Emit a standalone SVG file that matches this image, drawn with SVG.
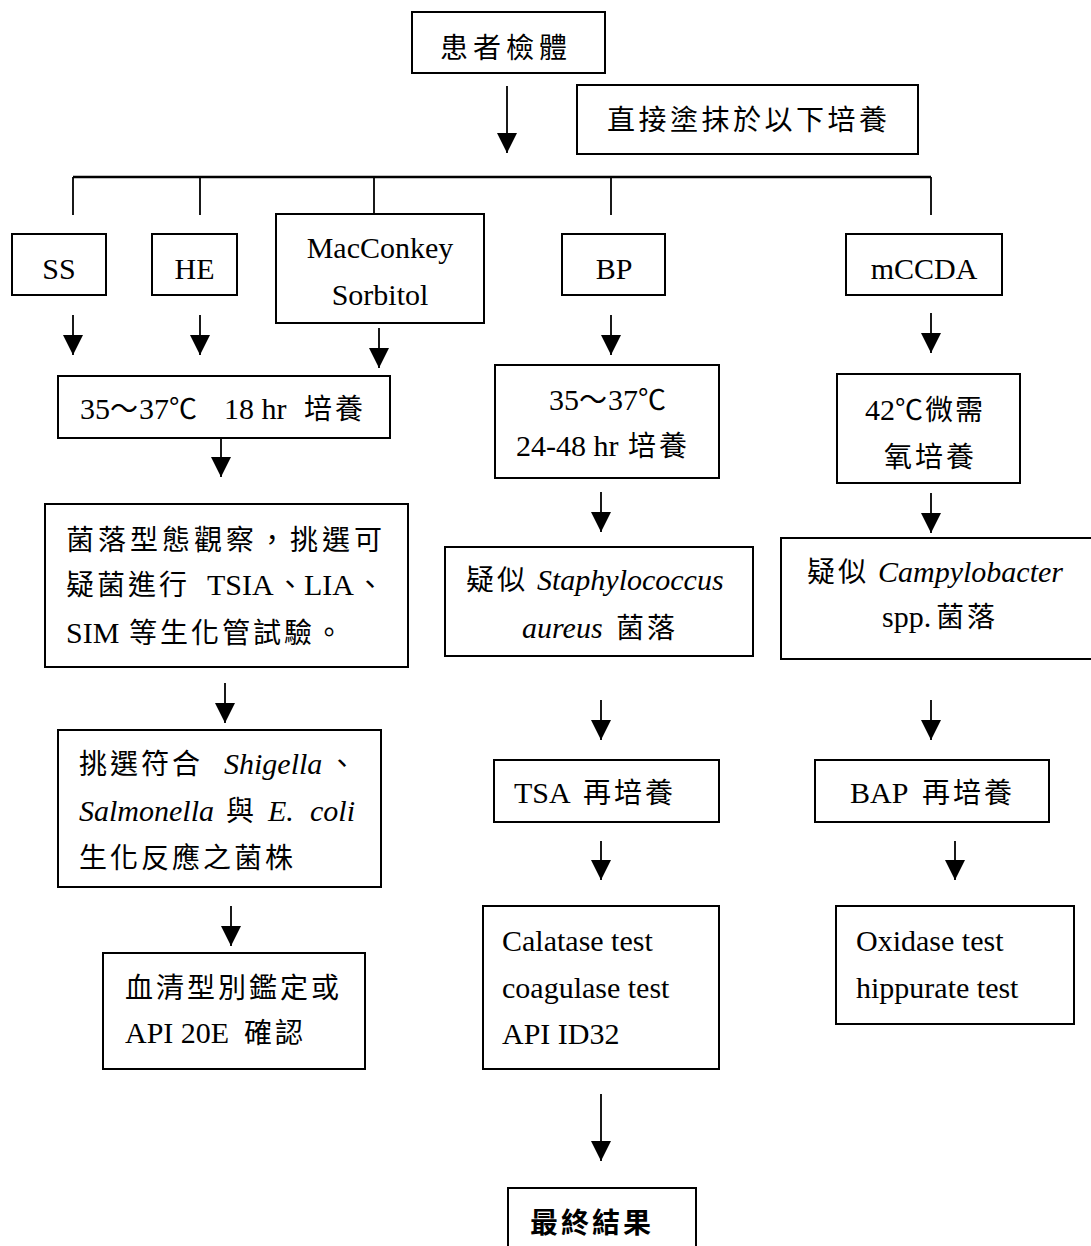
<svg xmlns="http://www.w3.org/2000/svg" width="1091" height="1246" viewBox="0 0 1091 1246">
<style>
.bx{fill:#fff;stroke:#000;stroke-width:2}
.ln{stroke:#000;stroke-width:1.8;fill:none}
.ar{stroke:#000;stroke-width:1.8;fill:none;marker-end:url(#ah)}
text{font-family:"Liberation Serif",serif;font-size:30px;fill:#000}
text.c{font-family:"Noto Sans CJK TC","Liberation Serif",sans-serif;font-size:28px;letter-spacing:3px}
.i{font-style:italic}
.m{text-anchor:middle}
</style>
<defs>
<marker id="ah" markerUnits="userSpaceOnUse" markerWidth="20" markerHeight="20" refX="20" refY="10" orient="auto" viewBox="0 0 20 20">
<path d="M0,0 L20,10 L0,20 z" fill="#000"/>
</marker>
</defs>
<rect width="1091" height="1246" fill="#fff"/>
<g id="connectors">
<line class="ar" x1="507" y1="86" x2="507" y2="153"/>
<line x1="73" y1="177" x2="931" y2="177" stroke="#000" stroke-width="2.6"/>
<line class="ln" x1="73" y1="177" x2="73" y2="215"/>
<line class="ln" x1="200" y1="177" x2="200" y2="215"/>
<line class="ln" x1="374" y1="177" x2="374" y2="214"/>
<line class="ln" x1="611" y1="177" x2="611" y2="215"/>
<line class="ln" x1="931" y1="177" x2="931" y2="215"/>
<line class="ar" x1="73" y1="315" x2="73" y2="355"/>
<line class="ar" x1="200" y1="315" x2="200" y2="355"/>
<line class="ar" x1="379" y1="328" x2="379" y2="368"/>
<line class="ar" x1="611" y1="315" x2="611" y2="355"/>
<line class="ar" x1="931" y1="313" x2="931" y2="353"/>
<line class="ar" x1="221" y1="438" x2="221" y2="477"/>
<line class="ar" x1="601" y1="492" x2="601" y2="532"/>
<line class="ar" x1="931" y1="493" x2="931" y2="533"/>
<line class="ar" x1="225" y1="683" x2="225" y2="723"/>
<line class="ar" x1="601" y1="700" x2="601" y2="740"/>
<line class="ar" x1="931" y1="700" x2="931" y2="740"/>
<line class="ar" x1="601" y1="841" x2="601" y2="880"/>
<line class="ar" x1="955" y1="841" x2="955" y2="880"/>
<line class="ar" x1="231" y1="906" x2="231" y2="946"/>
<line class="ar" x1="601" y1="1094" x2="601" y2="1161"/>
</g>
<g id="n-specimen">
<rect class="bx" x="412" y="12" width="193" height="61"/>
<text class="c" x="440" y="58" style="letter-spacing:5px">患者檢體</text>
</g>
<g id="n-direct">
<rect class="bx" x="577" y="85" width="341" height="69"/>
<text class="c" x="607" y="130" style="letter-spacing:3.5px">直接塗抹於以下培養</text>
</g>
<g id="n-ss">
<rect class="bx" x="12" y="234" width="94" height="61"/>
<text class="m" x="59" y="279">SS</text>
</g>
<g id="n-he">
<rect class="bx" x="152" y="234" width="85" height="61"/>
<text class="m" x="194.5" y="279">HE</text>
</g>
<g id="n-mac">
<rect class="bx" x="276" y="214" width="208" height="109"/>
<text class="m" x="380" y="258">MacConkey</text>
<text class="m" x="380" y="305">Sorbitol</text>
</g>
<g id="n-bp">
<rect class="bx" x="562" y="234" width="103" height="61"/>
<text class="m" x="614" y="279">BP</text>
</g>
<g id="n-mccda">
<rect class="bx" x="846" y="234" width="156" height="61"/>
<text class="m" x="924" y="279">mCCDA</text>
</g>
<g id="n-cult1">
<rect class="bx" x="58" y="376" width="332" height="62"/>
<text x="80" y="419">35</text>
<text class="c" x="110" y="419" style="letter-spacing:0">～</text>
<text x="139" y="419">37</text>
<text class="c" x="169" y="419" style="letter-spacing:0">℃</text>
<text x="224" y="419">18 hr</text>
<text class="c" x="304" y="419">培養</text>
</g>
<g id="n-cult2">
<rect class="bx" x="495" y="365" width="224" height="113"/>
<text x="549" y="410">35</text>
<text class="c" x="579" y="410" style="letter-spacing:0">～</text>
<text x="608" y="410">37</text>
<text class="c" x="638" y="410" style="letter-spacing:0">℃</text>
<text x="516" y="456">24-48 hr</text>
<text class="c" x="628" y="456">培養</text>
</g>
<g id="n-cult3">
<rect class="bx" x="837" y="374" width="183" height="109"/>
<text x="865" y="420">42</text>
<text class="c" x="895" y="420" style="letter-spacing:2px">℃微需</text>
<text class="c" x="884" y="467">氧培養</text>
</g>
<g id="n-observe">
<rect class="bx" x="45" y="504" width="363" height="163"/>
<text class="c" x="66" y="550" style="letter-spacing:4px">菌落型態觀察，挑選可</text>
<text class="c" x="66" y="595">疑菌進行</text>
<text x="207" y="595">TSIA</text>
<text class="c" x="276" y="595">、</text>
<text x="304" y="595">LIA</text>
<text class="c" x="356" y="595">、</text>
<text x="66" y="643">SIM</text>
<text class="c" x="129" y="643">等生化管試驗。</text>
</g>
<g id="n-staph">
<rect class="bx" x="445" y="547" width="308" height="109"/>
<text class="c" x="466" y="590">疑似</text>
<text class="i" x="537" y="590">Staphylococcus</text>
<text class="i" x="522" y="638">aureus</text>
<text class="c" x="616" y="638">菌落</text>
</g>
<g id="n-campy">
<rect class="bx" x="781" y="538" width="320" height="121"/>
<text class="c" x="807" y="582">疑似</text>
<text class="i" x="878" y="582">Campylobacter</text>
<text x="882" y="627">spp.</text>
<text class="c" x="936" y="627">菌落</text>
</g>
<g id="n-select">
<rect class="bx" x="58" y="730" width="323" height="157"/>
<text class="c" x="79" y="774">挑選符合</text>
<text class="i" x="224" y="774">Shigella</text>
<text class="c" x="328" y="774">、</text>
<text class="i" x="79" y="821">Salmonella</text>
<text class="c" x="226" y="821">與</text>
<text class="i" x="268" y="821">E.</text>
<text class="i" x="310" y="821">coli</text>
<text class="c" x="79" y="868">生化反應之菌株</text>
</g>
<g id="n-tsa">
<rect class="bx" x="494" y="760" width="225" height="62"/>
<text x="514" y="803">TSA</text>
<text class="c" x="583" y="803">再培養</text>
</g>
<g id="n-bap">
<rect class="bx" x="815" y="760" width="234" height="62"/>
<text x="850" y="803">BAP</text>
<text class="c" x="922" y="803">再培養</text>
</g>
<g id="n-serum">
<rect class="bx" x="103" y="953" width="262" height="116"/>
<text class="c" x="125" y="998">血清型別鑑定或</text>
<text x="125" y="1043">API 20E</text>
<text class="c" x="244" y="1043">確認</text>
</g>
<g id="n-catalase">
<rect class="bx" x="483" y="906" width="236" height="163"/>
<text x="502" y="951">Calatase test</text>
<text x="502" y="998">coagulase test</text>
<text x="502" y="1044">API ID32</text>
</g>
<g id="n-oxidase">
<rect class="bx" x="836" y="906" width="238" height="118"/>
<text x="856" y="951">Oxidase test</text>
<text x="856" y="998">hippurate test</text>
</g>
<g id="n-final">
<rect class="bx" x="508" y="1188" width="188" height="70"/>
<text class="c" x="530" y="1233" font-weight="bold">最終結果</text>
</g>
</svg>
